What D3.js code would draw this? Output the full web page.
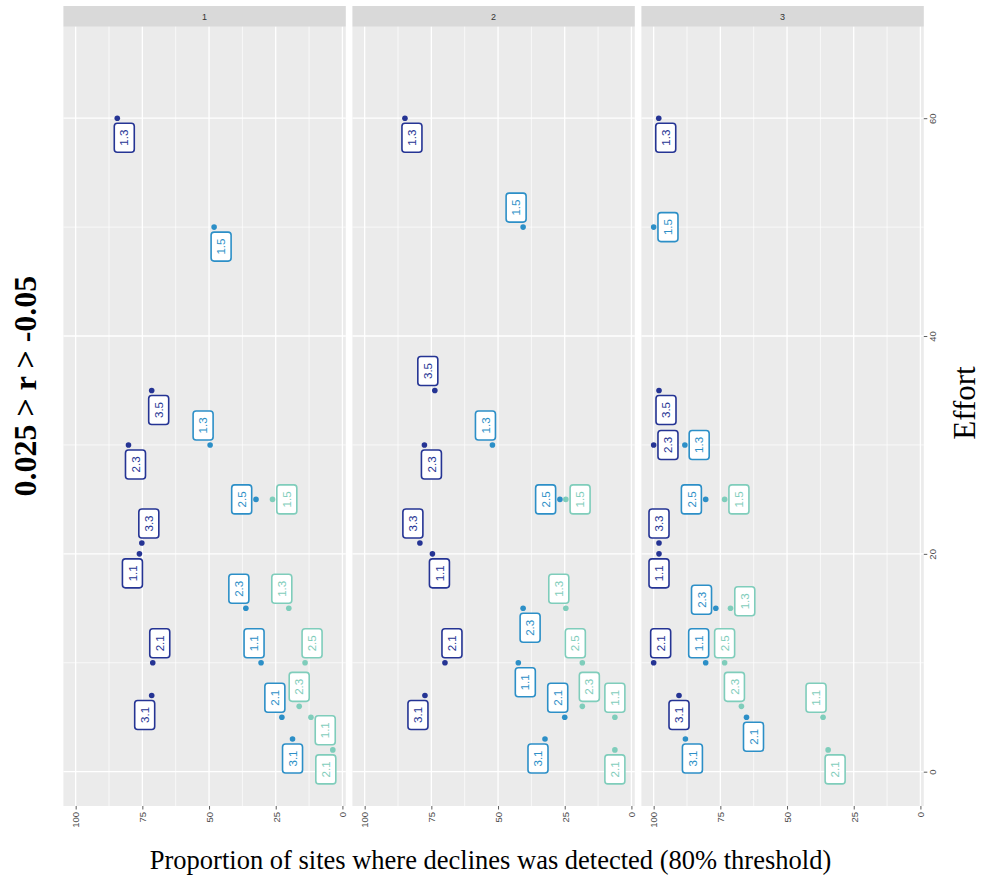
<!DOCTYPE html>
<html><head><meta charset="utf-8">
<script src="https://cdn.jsdelivr.net/npm/d3@7"></script>
<style>body{margin:0;background:#fff}</style>
</head><body>
<svg id="c" width="982" height="884"></svg>
<script>
// ---------- DATA ----------
const panels = ["1", "2", "3"];
const groupColors = ["#253494", "#2c8fc7", "#7fcdbb"];

const darkLabels = ["1.3", "3.5", "2.3", "3.3", "1.1", "2.1", "3.1"];
const darkEffort = [60, 35, 30, 21, 20, 10, 7];
const darkProp1 = [84.4, 71.5, 80.2, 75.2, 76.1, 71.1, 71.5];
const darkProp2 = [84.9, 73.7, 77.6, 79.3, 74.6, 69.9, 77.4];
const darkProp3 = [98.1, 98.0, 100, 98.0, 98.0, 100, 90.5];
const darkDir1 = ["BR", "BR", "BR", "AR", "BL", "AR", "BL"];
const darkDir2 = ["BR", "AL", "BR", "AL", "BR", "AR", "BL"];
const darkDir3 = ["BR", "BR", "R", "A", "B", "AR", "B"];

const midLabels = ["1.5", "1.3", "2.5", "2.3", "1.1", "2.1", "3.1"];
const midEffort = [50, 30, 25, 15, 10, 5, 3];
const midProp1 = [48.1, 49.6, 32.4, 36.2, 30.5, 22.7, 18.7];
const midProp2 = [40.6, 52.1, 26.8, 40.6, 42.4, 25.0, 32.4];
const midProp3 = [100, 88.3, 80.5, 76.7, 80.5, 65.2, 88.1];
const midDir1 = ["BR", "AL", "L", "AL", "AL", "AL", "B"];
const midDir2 = ["AL", "AL", "L", "BR", "BR", "AL", "BL"];
const midDir3 = ["R", "R", "L", "LA", "AL", "BR", "BR"];

const lightLabels = ["1.5", "1.3", "2.5", "2.3", "1.1", "2.1"];
const lightEffort = [25, 15, 10, 6, 5, 2];
const lightProp1 = [26.2, 20.1, 14.0, 16.2, 11.8, 3.6];
const lightProp2 = [24.6, 24.6, 18.4, 18.4, 6.2, 6.2];
const lightProp3 = [73.4, 71.2, 73.4, 67.1, 36.5, 34.6];
const lightDir1 = ["R", "AL", "AR", "A", "RB", "BL"];
const lightDir2 = ["R", "AL", "AL", "AR", "A", "B"];
const lightDir3 = ["R", "RA", "A", "AL", "AL", "BR"];

const propTicks = [100, 75, 50, 25, 0];
const propMinor = [87.5, 62.5, 37.5, 12.5];
const effortTicks = [0, 20, 40, 60];
const effortMinor = [10, 30, 50];

const xTitle = "Proportion of sites where declines was detected (80% threshold)";
const yTitle = "Effort";
const rowTitle = "0.025 > r > -0.05";

// ---------- BUILD ----------
const groups = [
  {labels: darkLabels, effort: darkEffort, props: [darkProp1, darkProp2, darkProp3], dirs: [darkDir1, darkDir2, darkDir3]},
  {labels: midLabels, effort: midEffort, props: [midProp1, midProp2, midProp3], dirs: [midDir1, midDir2, midDir3]},
  {labels: lightLabels, effort: lightEffort, props: [lightProp1, lightProp2, lightProp3], dirs: [lightDir1, lightDir2, lightDir3]}
];

// label nudges (pixels) by direction code
const nudge = {BR: [7, 19.5], BL: [-7, 19.5], B: [0, 19.5], AR: [7, -19.5], AL: [-7, -19.5], A: [0, -19.5],
  R: [14.3, 0], L: [-14.3, 0], LA: [-14.3, -8.5], RA: [14.3, -7], RB: [14.3, 13]};

const L0 = 63.4, STEP = 289, PW = 282.4, PT = 26.7, PB = 806, STRIP_TOP = 6;

const x = d3.scaleLinear().domain([104.6, -1.27]).range([0, PW]);
const y = d3.scaleLinear().domain([-3.15, 68.4]).range([PB, PT]);

const svg = d3.select("#c");
svg.append("rect").attr("width", 982).attr("height", 884).attr("fill", "#fff");

panels.forEach((pname, pi) => {
  const g = svg.append("g").attr("transform", `translate(${L0 + pi * STEP},0)`);
  g.append("rect").attr("x", 0).attr("y", PT).attr("width", PW).attr("height", PB - PT).attr("fill", "#EBEBEB");
  // strip
  g.append("rect").attr("x", 0).attr("y", STRIP_TOP).attr("width", PW).attr("height", PT - STRIP_TOP).attr("fill", "#D9D9D9");
  g.append("text").attr("x", PW / 2).attr("y", (STRIP_TOP + PT) / 2).attr("dy", "0.35em")
    .attr("text-anchor", "middle").attr("font-family", "Liberation Sans, Arial, sans-serif")
    .attr("font-size", 9).attr("fill", "#333").text(pname);
  // grid
  g.selectAll(".vminor").data(propMinor).enter().append("line")
    .attr("x1", d => x(d)).attr("x2", d => x(d)).attr("y1", PT).attr("y2", PB)
    .attr("stroke", "#fff").attr("stroke-width", 0.7);
  g.selectAll(".hminor").data(effortMinor).enter().append("line")
    .attr("y1", d => y(d)).attr("y2", d => y(d)).attr("x1", 0).attr("x2", PW)
    .attr("stroke", "#fff").attr("stroke-width", 0.7);
  g.selectAll(".vmajor").data(propTicks).enter().append("line")
    .attr("x1", d => x(d)).attr("x2", d => x(d)).attr("y1", PT).attr("y2", PB)
    .attr("stroke", "#fff").attr("stroke-width", 1.3);
  g.selectAll(".hmajor").data(effortTicks).enter().append("line")
    .attr("y1", d => y(d)).attr("y2", d => y(d)).attr("x1", 0).attr("x2", PW)
    .attr("stroke", "#fff").attr("stroke-width", 1.3);

  // points and labels
  const pts = [];
  groups.forEach((gr, gi) => {
    gr.labels.forEach((lab, i) => {
      pts.push({color: groupColors[gi], label: lab, effort: gr.effort[i], prop: gr.props[pi][i], dir: gr.dirs[pi][i]});
    });
  });
  g.selectAll("circle.pt").data(pts).enter().append("circle")
    .attr("cx", d => x(d.prop)).attr("cy", d => y(d.effort)).attr("r", 2.8).attr("fill", d => d.color);
  const lg = g.selectAll("g.lab").data(pts).enter().append("g")
    .attr("transform", d => `translate(${x(d.prop) + nudge[d.dir][0]},${y(d.effort) + nudge[d.dir][1]})`);
  lg.append("rect").attr("x", -10).attr("y", -14.5).attr("width", 20).attr("height", 29).attr("rx", 3)
    .attr("fill", "#fff").attr("stroke", d => d.color).attr("stroke-width", 1.6);
  lg.append("text").attr("transform", "rotate(-90)").attr("text-anchor", "middle").attr("dy", "0.36em")
    .attr("font-family", "Liberation Sans, Arial, sans-serif").attr("font-size", 11.5)
    .attr("fill", d => d.color).text(d => d.label);

  // bottom axis
  const ax = g.append("g").attr("transform", `translate(0,${PB})`)
    .call(d3.axisBottom(x).tickValues(propTicks).tickFormat(d3.format("d")).tickSize(3.5).tickSizeOuter(0));
  ax.select(".domain").remove();
  ax.selectAll(".tick line").attr("stroke", "#333").attr("stroke-width", 0.8);
  ax.selectAll(".tick text").attr("transform", "rotate(-90)").attr("x", -6).attr("y", 0).attr("dy", "0.35em")
    .attr("text-anchor", "end").attr("font-family", "Liberation Sans, Arial, sans-serif")
    .attr("font-size", 9.5).attr("fill", "#4D4D4D");

  if (pi === panels.length - 1) {
    const ay = g.append("g").attr("transform", `translate(${PW},0)`)
      .call(d3.axisRight(y).tickValues(effortTicks).tickFormat(d3.format("d")).tickSize(3.5).tickSizeOuter(0));
    ay.select(".domain").remove();
    ay.selectAll(".tick line").attr("stroke", "#333").attr("stroke-width", 0.8);
    ay.selectAll(".tick text").attr("transform", "translate(9,0) rotate(-90)").attr("x", 0).attr("y", 0)
      .attr("dy", "0.35em").attr("text-anchor", "middle")
      .attr("font-family", "Liberation Sans, Arial, sans-serif").attr("font-size", 9.5).attr("fill", "#4D4D4D");
  }
});

// titles
svg.append("text").attr("x", 490.5).attr("y", 869).attr("text-anchor", "middle")
  .attr("font-family", "Liberation Serif, Times New Roman, serif").attr("font-size", 26.5).attr("fill", "#000").text(xTitle);
svg.append("text").attr("transform", "translate(975,403) rotate(-90)").attr("text-anchor", "middle")
  .attr("font-family", "Liberation Serif, Times New Roman, serif").attr("font-size", 31).attr("fill", "#000").text(yTitle);
svg.append("text").attr("transform", "translate(36,386) rotate(-90)").attr("text-anchor", "middle")
  .attr("font-family", "Liberation Serif, Times New Roman, serif").attr("font-weight", "bold")
  .attr("font-size", 32).attr("fill", "#000").text(rowTitle);
</script>
</body></html>
